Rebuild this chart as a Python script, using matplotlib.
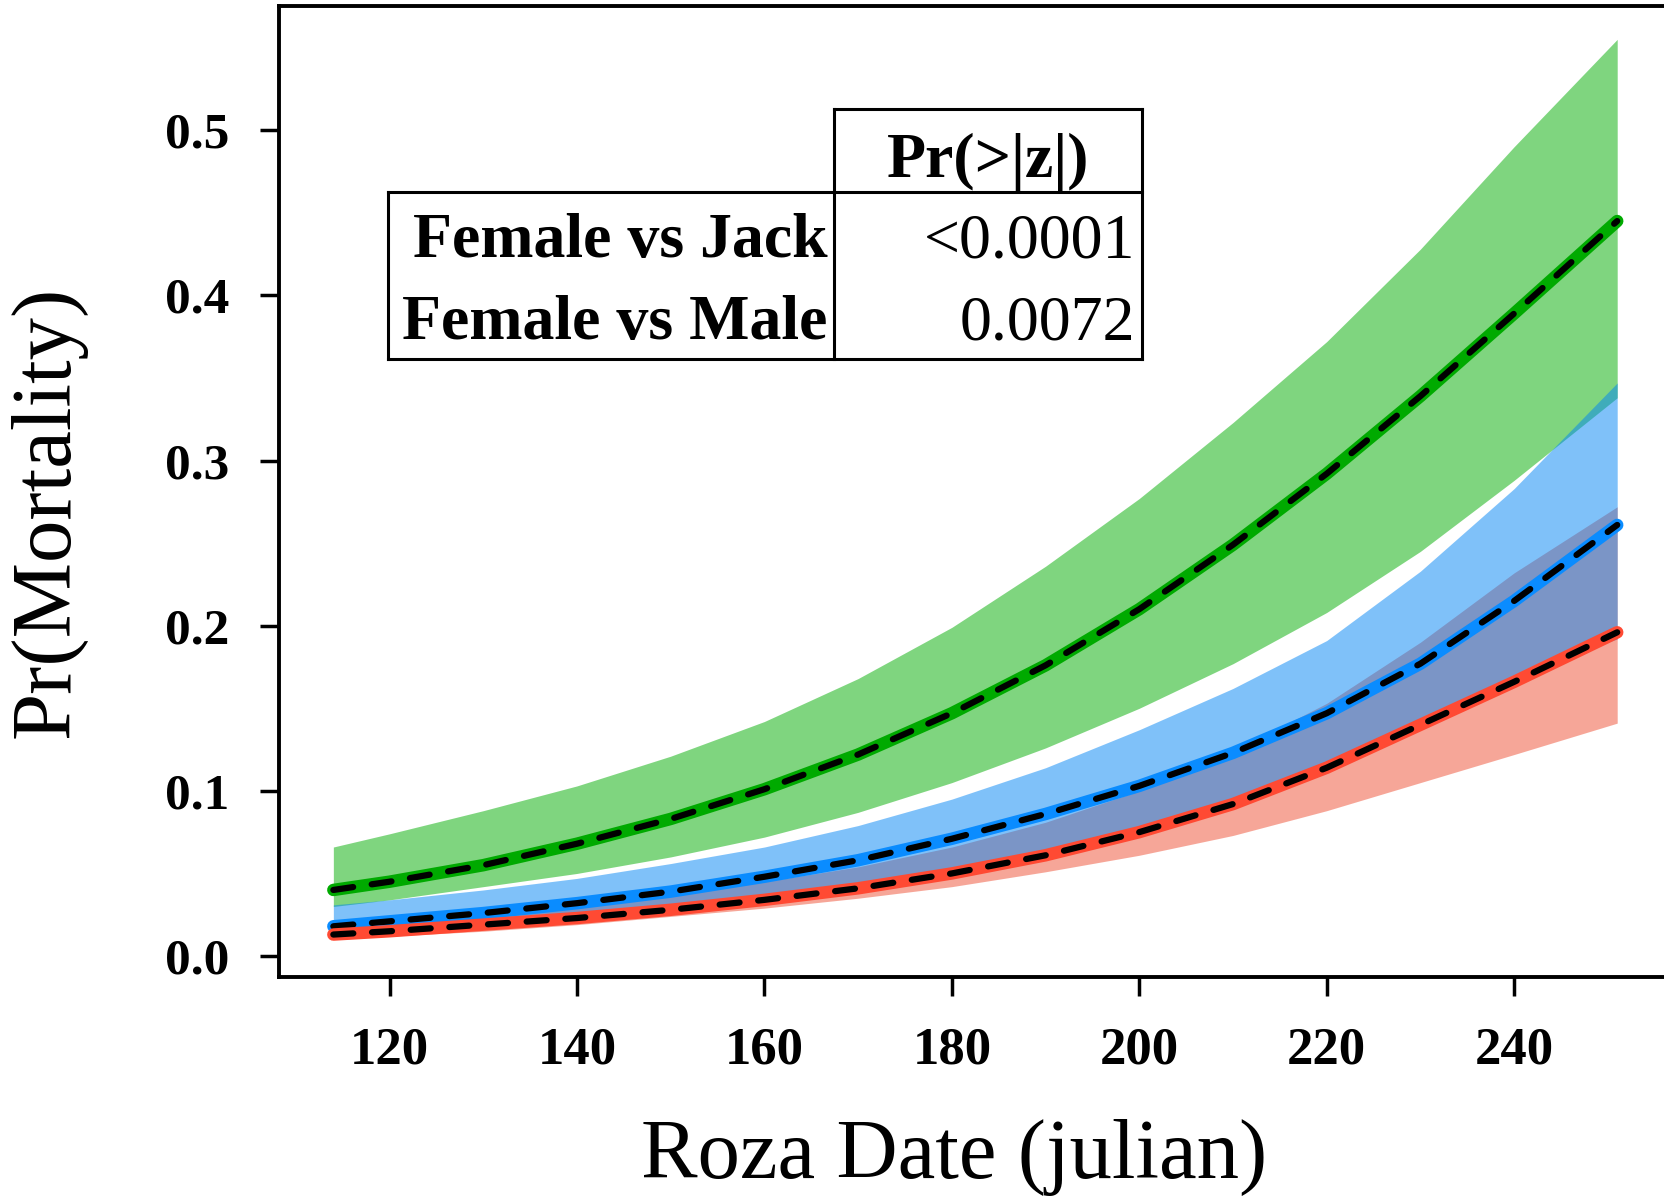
import matplotlib.pyplot as plt
from matplotlib.lines import Line2D
import numpy as np

plt.rcParams['font.family'] = ['Liberation Serif', 'DejaVu Serif']

# roza date (julian)
days = [114, 120, 130, 140, 150, 160, 170, 180, 190, 200, 210, 220, 230, 240, 251]

# jack (green)
jack_fit = [0.040, 0.045, 0.055, 0.068, 0.083, 0.101, 0.122, 0.147, 0.176, 0.210, 0.249, 0.292, 0.339, 0.389, 0.445]
jack_hi = [0.066, 0.074, 0.088, 0.103, 0.121, 0.142, 0.168, 0.199, 0.236, 0.277, 0.323, 0.372, 0.428, 0.490, 0.555]
jack_lo = [0.030, 0.034, 0.042, 0.050, 0.060, 0.072, 0.087, 0.105, 0.126, 0.150, 0.177, 0.208, 0.245, 0.288, 0.338]

# male (blue)
male_fit = [0.018, 0.021, 0.026, 0.032, 0.039, 0.048, 0.058, 0.071, 0.086, 0.103, 0.123, 0.147, 0.177, 0.215, 0.261]
male_hi = [0.031, 0.034, 0.040, 0.047, 0.056, 0.066, 0.079, 0.095, 0.114, 0.137, 0.162, 0.191, 0.233, 0.283, 0.347]
male_lo = [0.011, 0.013, 0.017, 0.021, 0.026, 0.032, 0.039, 0.048, 0.060, 0.074, 0.093, 0.116, 0.143, 0.170, 0.192]

# female (red)
fem_fit = [0.013, 0.015, 0.019, 0.023, 0.028, 0.034, 0.041, 0.050, 0.061, 0.075, 0.092, 0.114, 0.140, 0.166, 0.196]
fem_hi = [0.018, 0.021, 0.026, 0.032, 0.038, 0.045, 0.054, 0.066, 0.081, 0.100, 0.124, 0.153, 0.190, 0.232, 0.272]
fem_lo = [0.010, 0.012, 0.015, 0.019, 0.024, 0.029, 0.035, 0.042, 0.051, 0.061, 0.073, 0.088, 0.105, 0.122, 0.141]

# table
col_header = 'Pr(>|z|)'
row_names = ['Female vs Jack', 'Female vs Male']
p_values = ['<0.0001', '0.0072']

x_ticks = [120, 140, 160, 180, 200, 220, 240]
y_ticks = [0.0, 0.1, 0.2, 0.3, 0.4, 0.5]

W, H = 1665, 1203
fig = plt.figure(figsize=(W / 100, H / 100), dpi=100)
ax = fig.add_axes([279 / W, 1 - 977 / H, 1 - 279 / W, (977 - 6) / H])

x = np.array(days)
ax.fill_between(x, fem_lo, fem_hi, color='#EF4F33', alpha=0.5, lw=0)
ax.fill_between(x, jack_lo, jack_hi, color='#00AD00', alpha=0.5, lw=0)
ax.fill_between(x, male_lo, male_hi, color='#0185F5', alpha=0.5, lw=0)

for fit, col in [(jack_fit, '#00AA00'), (male_fit, '#0A8CFF'), (fem_fit, '#FF4A33')]:
    ax.plot(x, fit, color=col, lw=9, solid_capstyle='round', solid_joinstyle='round')
    ax.plot(x, fit, color='black', lw=4.5, dashes=(3.2, 3), dash_capstyle='round')

ax.set_xlim(108.2, 256.1)
ax.set_ylim(-0.0127, 0.5752)
ax.set_xticks(x_ticks)
ax.set_yticks(y_ticks)
ax.set_yticklabels([f'{v:.1f}' for v in y_ticks])
for lab in ax.get_xticklabels():
    lab.set_fontsize(38)
    lab.set_fontweight('bold')
for lab in ax.get_yticklabels():
    lab.set_fontsize(37)
    lab.set_fontweight('bold')
ax.tick_params(direction='out', length=14, width=2.5, pad=22, color='black')
ax.spines['right'].set_visible(False)
for s in ['left', 'bottom', 'top']:
    ax.spines[s].set_linewidth(2.8)

fig.text(954 / W, 1 - 1157 / H, 'Roza Date (julian)', fontsize=61, ha='center', va='center')
fig.text(48 / W, 1 - 512 / H, 'Pr(Mortality)', fontsize=61, ha='center', va='center', rotation=90)

# table box
L, M, R = 387.6, 833.6, 1141.6
T, HB, B = 109.4, 192.2, 358.9


def seg(x0, y0, x1, y1):
    fig.add_artist(Line2D([x0 / W, x1 / W], [1 - y0 / H, 1 - y1 / H], color='black', lw=2.2,
                          solid_capstyle='projecting'))


seg(M, T, R, T)
seg(L, HB, R, HB)
seg(L, B, R, B)
seg(L, HB, L, B)
seg(M, T, M, B)
seg(R, T, R, B)

fig.text((M + R) / 2 / W, 1 - 162 / H, col_header, fontsize=46, fontweight='bold', ha='center', va='center')
row_y = [242, 324]
for name, pv, ry in zip(row_names, p_values, row_y):
    fig.text((M - 6) / W, 1 - ry / H, name, fontsize=46, fontweight='bold', ha='right', va='center')
    fig.text((R - 6) / W, 1 - ry / H, pv, fontsize=46, ha='right', va='center')

fig.savefig('out.png', dpi=100)
